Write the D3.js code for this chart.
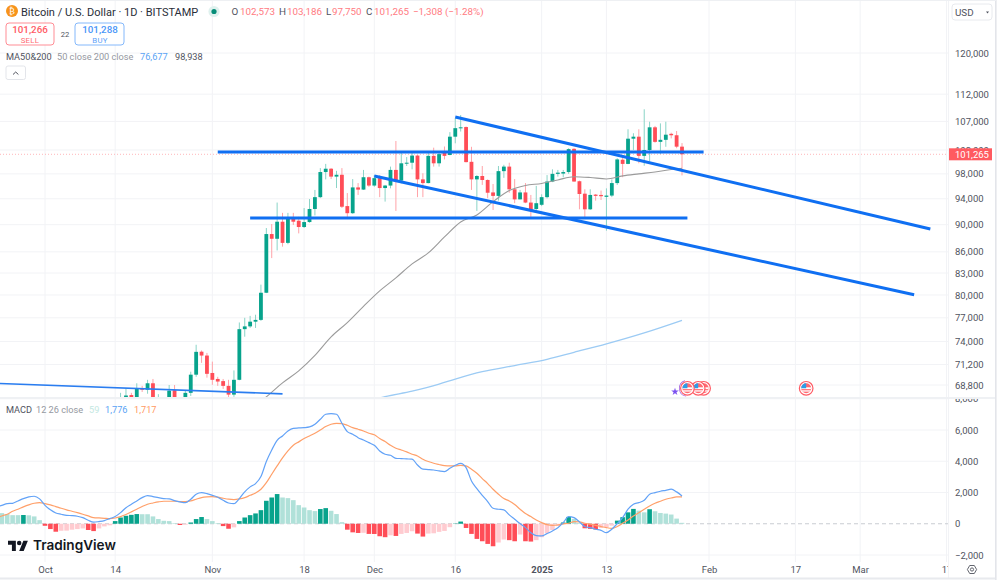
<!DOCTYPE html>
<html>
<head>
<meta charset="utf-8">
<script src="https://cdn.jsdelivr.net/npm/d3@7"></script>
<style>
html, body { margin: 0; padding: 0; background: #ffffff; }
svg { display: block; font-family: Roboto, sans-serif; }
</style>
</head>
<body>
<div id="chart"></div>
<script>
// candles, one per day from this date
var candleStart = "2024-10-15";
var candleOpen = [
  65900,67050,67650,67050,68450,68250,69000,67000,67300,66700,68200,66600,67000,67900,70000,72750,72280,
  70200,69500,69250,68700,67700,69400,75550,75900,76500,76730,80300,88600,87900,90450,87300,91000,90600,89650,90400,92400,94250,98300,98850,97550,97850,92850,91750,95800,95450,97450,
  96100,97300,95700,96100,98650,96900,99750,99850,101050,97100,96500,101000,99750,101700,101150,104300,105800,106000,100000,97100,97650,97000,95000,94450,98450,99200,95500,93900,95000,93400,92400,
  93050,94250,96750,98000,98050,98300,102200,96800,94800,92350,94650,94600,94300,94500,96500,100350,99650,103950,104300,101000,102000,105950,103400,103750,104800,104550,102573
];
var candleHigh = [
  67900,68400,67900,69000,68700,69400,69500,67750,67300,68800,68800,67300,68200,70350,73600,72900,72600,
  71550,69750,69500,69400,70500,76400,77000,77250,77400,81400,89500,90100,93400,91800,91800,91800,91200,92550,93950,95400,98950,99650,98950,98500,98950,94900,97150,96500,98650,97550,
  97800,97800,96200,99200,103550,101700,100800,101700,101150,98100,101700,102400,101700,102600,105100,107600,108150,106100,102550,97800,99300,97100,96350,99300,99500,99850,97150,95400,96500,94600,96050,
  94700,97800,98750,98650,98650,102300,102300,96900,95500,95500,94750,95300,95650,97100,100600,100850,105600,104900,105600,109200,106950,106200,106650,106950,105000,105300,103186
];
var candleLow = [
  64800,66800,66700,66900,68000,67800,66600,66500,65300,66600,65500,66500,66800,67550,69750,71400,69650,
  68820,68700,68350,67300,67450,69350,74600,75700,75700,76600,80250,85100,86200,86750,87100,89950,88700,89500,90300,91400,94100,97100,97150,95700,92550,90850,91650,94600,95400,95900,
  95900,94250,93550,95650,92100,96450,99300,98750,94250,94250,96450,99200,99200,100400,101100,103150,105200,99900,95400,92100,96200,94100,92250,93700,97350,94950,93300,93900,93300,91200,92250,
  92850,94050,96650,97550,97450,98000,96700,92350,91150,92250,93700,93800,89100,94250,96200,97450,99600,102000,99750,99350,100050,103250,101300,102550,104000,102300,97750
];
var candleClose = [
  66950,67600,67050,68400,68250,69000,67350,67300,66700,68150,66600,67000,67900,70000,72730,72280,70100,
  69400,69200,68700,67700,69400,75550,75900,76500,76730,80300,88600,87900,90450,87300,91000,90450,89650,90400,92400,94250,98300,98850,97550,97850,92750,91750,95800,95450,97450,96100,
  97300,95700,96100,98650,96900,99750,99850,101050,97100,96500,101000,99750,101300,101000,104300,105800,105950,99950,97100,97650,97000,94950,94450,98450,99200,95500,93900,95000,93400,92250,93300,
  94250,96750,98000,98200,98300,102150,96750,94750,92350,94600,94450,94400,94500,96500,100400,99650,103950,104300,101000,102000,105950,103400,103750,104650,104550,102570,101265
];

// moving averages, read every few days
var ma50Dates = ["2024-11-08","2024-11-11","2024-11-14","2024-11-17","2024-11-20","2024-11-23","2024-11-26","2024-11-29","2024-12-02","2024-12-05","2024-12-08","2024-12-11","2024-12-14","2024-12-17","2024-12-20","2024-12-23","2024-12-26","2024-12-29","2025-01-01","2025-01-04","2025-01-07","2025-01-10","2025-01-13","2025-01-16","2025-01-19","2025-01-22","2025-01-25","2025-01-27"];
var ma50Values = [66100,67450,69050,70450,72300,74580,76380,78490,80550,82330,84280,85850,88170,90410,91480,93540,95310,96120,96440,97010,97540,97410,97170,97670,98000,98310,98720,98938];
var ma200Dates = ["2024-11-30","2024-12-03","2024-12-08","2024-12-13","2024-12-16","2024-12-21","2024-12-27","2025-01-02","2025-01-07","2025-01-13","2025-01-20","2025-01-27"];
var ma200Values = [67000,67470,68100,68900,69490,70360,71080,71820,72670,73710,75080,76677];

// hand drawn lines on the chart: [date, price, date, price]
var trendLines = [
  ["2024-11-02",101660,"2025-01-31",101660],
  ["2024-11-08",91020,"2025-01-28",91020],
  ["2024-12-16",107800,"2025-03-14",89360],
  ["2024-12-01",97660,"2025-03-11",80020]
];
var thinLine = ["2024-09-22",68980,"2024-11-14",67790];

var eventDates = ["2025-02-19","2025-01-31","2025-01-30","2025-01-28"];

// macd pane, one value per day from this date
var macdStart = "2024-09-22";
var macdLine = [
  1100,1180,1290,1310,1460,1610,1720,1760,1590,
  1180,890,690,610,540,520,480,390,220,100,140,200,330,460,710,1030,1250,1460,1670,1800,1740,1670,1610,1590,1480,1400,1350,1570,1890,1990,
  1930,1820,1700,1500,1330,1290,1610,2040,2360,2570,3020,3980,4720,5340,5620,5940,6110,6130,6150,6200,6370,6690,7010,7050,7010,6430,5900,5730,5510,5360,
  5190,5020,4660,4450,4380,4190,4170,4150,4130,3760,3490,3470,3440,3380,3340,3550,3740,3870,3590,2740,2250,1820,1420,990,930,890,570,290,10,-250,-570,-760,
  -780,-630,-460,-250,70,460,390,120,-180,-250,-350,-420,-570,-350,10,390,930,1250,1350,1500,1890,1990,2080,2140,2210,2040,1776
];
var signalLine = [
  350,500,610,800,930,1080,1210,1310,1350,
  1290,1210,1100,990,890,800,710,610,500,390,370,350,330,370,460,590,760,930,1100,1250,1330,1400,1440,1440,1440,1420,1420,1460,1570,1670,
  1720,1740,1700,1630,1570,1550,1590,1670,1820,1970,2210,2630,3170,3700,4210,4660,5020,5240,5450,5620,5790,6000,6220,6370,6430,6410,6300,6150,6050,5940,
  5790,5700,5450,5260,5020,4830,4720,4600,4450,4340,4130,3980,3870,3790,3720,3700,3700,3740,3700,3490,3230,2890,2570,2210,1890,1610,1460,1230,930,650,460,240,
  70,-60,-100,-80,-10,30,140,120,30,-30,-100,-180,-250,-290,-180,30,240,500,710,930,1140,1310,1440,1570,1650,1720,1717
];
var macdHist = [
  700,680,620,550,550,560,540,470,230,
  -130,-340,-510,-450,-440,-380,-340,-300,-400,-470,-300,-170,-100,170,400,510,570,620,610,610,470,300,190,170,40,-80,-60,80,300,430,300,
  170,40,-150,-320,-230,170,400,550,660,870,1470,1680,1900,1680,1640,1510,1190,1040,870,810,940,1000,830,620,100,-380,-550,-590,-580,-650,
  -655,-800,-860,-740,-780,-650,-590,-480,-630,-820,-630,-610,-520,-460,-220,20,140,-270,-650,-970,-1120,-1290,-1440,-1200,-1010,-1050,-1120,-690,-1120,-1140,-1050,
  -860,-600,-400,-150,80,440,310,50,-290,-330,-370,-270,-220,-120,200,420,730,950,840,730,930,800,690,650,590,330,59
];

// axis labels
var priceTicks = [120000,112000,107000,102000,98000,94000,90000,86000,83000,80000,77000,74000,71200,68800];
var macdTicks = [8000,6000,4000,2000,0,-2000];
var timeTicks = ["2024-10-01","2024-10-14","2024-11-01","2024-11-18","2024-12-01","2024-12-16","2025-01-01","2025-01-13","2025-02-01","2025-02-17","2025-03-01","2025-03-17"];
var timeLabels = ["Oct","14","Nov","18","Dec","16","2025","13","Feb","17","Mar","17"];

var lastPrice = 101265;
var greenBody = "#07a38c", redBody = "#ff4d57", greenWick = "#8ad4c7", redWick = "#ffa3a8";
var greyText = "#50535e", paleRed = "#ff7b82";
var parseDay = d3.utcParse("%Y-%m-%d");

var svg = d3.select("#chart").append("svg").attr("width", 1000).attr("height", 586);
var defs = svg.append("defs");
defs.append("clipPath").attr("id", "priceClip").append("rect").attr("x", 0).attr("y", 0).attr("width", 948).attr("height", 397);
defs.append("clipPath").attr("id", "macdClip").append("rect").attr("x", 0).attr("y", 399).attr("width", 948).attr("height", 163);
defs.append("clipPath").attr("id", "timeClip").append("rect").attr("x", 0).attr("y", 562).attr("width", 948).attr("height", 16);
defs.append("clipPath").attr("id", "macdAxisClip").append("rect").attr("x", 948).attr("y", 399).attr("width", 48).attr("height", 163);

// scales, x is fixed by the month ticks, price is a log scale
var x = d3.scaleUtc().domain([parseDay("2024-10-01"), parseDay("2025-02-01")]).range([45, 709]);
var yPrice = d3.scaleLog().domain([120000, 68800]).range([53, 385]);
var yMacd = d3.scaleLinear().domain([6000, -2000]).range([430, 555]);

// grid
var gridColor = "#f2f3f6";
var timeDates = timeTicks.map(parseDay);
svg.append("g").attr("clip-path", "url(#priceClip)").selectAll("line").data(timeDates).enter().append("line")
  .attr("x1", function(d){return x(d)}).attr("x2", function(d){return x(d)})
  .attr("y1", 0).attr("y2", 397).style("stroke", gridColor);
svg.append("g").attr("clip-path", "url(#macdClip)").selectAll("line").data(timeDates).enter().append("line")
  .attr("x1", function(d){return x(d)}).attr("x2", function(d){return x(d)})
  .attr("y1", 399).attr("y2", 562).style("stroke", gridColor);
svg.append("g").attr("clip-path", "url(#priceClip)").selectAll("line").data(priceTicks).enter().append("line")
  .attr("x1", 0).attr("x2", 948)
  .attr("y1", function(d){return yPrice(d)}).attr("y2", function(d){return yPrice(d)})
  .style("stroke", gridColor);
svg.append("g").attr("clip-path", "url(#macdClip)").selectAll("line").data(macdTicks.filter(function(d){return d!==0})).enter().append("line")
  .attr("x1", 0).attr("x2", 948)
  .attr("y1", function(d){return yMacd(d)}).attr("y2", function(d){return yMacd(d)})
  .style("stroke", gridColor);

// last price line
svg.append("line").attr("x1", 0).attr("x2", 948)
  .attr("y1", yPrice(lastPrice)).attr("y2", yPrice(lastPrice))
  .style("stroke", "#ffa3a8").style("stroke-width", 0.8).style("stroke-dasharray", "1 2");

// price pane
var pricePane = svg.append("g").attr("clip-path", "url(#priceClip)");

var candles = candleOpen.map(function(o, i){
  return {date: d3.utcDay.offset(parseDay(candleStart), i), o: o, h: candleHigh[i], l: candleLow[i], c: candleClose[i]};
});

pricePane.selectAll("line.wick").data(candles).enter().append("line")
  .attr("class", "wick")
  .attr("x1", function(d){return x(d.date)}).attr("x2", function(d){return x(d.date)})
  .attr("y1", function(d){return yPrice(d.h)}).attr("y2", function(d){return yPrice(d.l)})
  .style("stroke", function(d){return d.c >= d.o ? greenWick : redWick})
  .style("stroke-width", 1);
pricePane.selectAll("rect.body").data(candles).enter().append("rect")
  .attr("class", "body")
  .attr("x", function(d){return x(d.date) - 1.9})
  .attr("width", 3.8)
  .attr("y", function(d){return yPrice(Math.max(d.o, d.c))})
  .attr("height", function(d){return Math.max(1, Math.abs(yPrice(d.o) - yPrice(d.c)))})
  .style("fill", function(d){return d.c >= d.o ? greenBody : redBody});

var priceLine = d3.line()
  .x(function(d){return x(parseDay(d[0]))})
  .y(function(d){return yPrice(d[1])})
  .curve(d3.curveMonotoneX);
pricePane.append("path").datum(d3.zip(ma200Dates, ma200Values)).attr("d", priceLine)
  .style("fill", "none").style("stroke", "#9ccbf4").style("stroke-width", 1.3);
pricePane.append("path").datum(d3.zip(ma50Dates, ma50Values)).attr("d", priceLine)
  .style("fill", "none").style("stroke", "#9b9b9b").style("stroke-width", 1.1);

// trend lines
pricePane.selectAll("line.trend").data(trendLines).enter().append("line")
  .attr("class", "trend")
  .attr("x1", function(d){return x(parseDay(d[0]))}).attr("y1", function(d){return yPrice(d[1])})
  .attr("x2", function(d){return x(parseDay(d[2]))}).attr("y2", function(d){return yPrice(d[3])})
  .style("stroke", "#0f6ff2").style("stroke-width", 3);
pricePane.append("line")
  .attr("x1", x(parseDay(thinLine[0]))).attr("y1", yPrice(thinLine[1]))
  .attr("x2", x(parseDay(thinLine[2]))).attr("y2", yPrice(thinLine[3]))
  .style("stroke", "#2a7df0").style("stroke-width", 1.6);

// event flags along the bottom of the price pane
var eventY = 388.3;
svg.append("path")
  .attr("d", d3.arc()({innerRadius: 7.6, outerRadius: 8.4, startAngle: Math.PI * 1.05, endAngle: Math.PI * 1.9}))
  .attr("transform", "translate(" + x(parseDay("2025-01-28")) + "," + eventY + ")")
  .style("fill", "#a768e0");
svg.append("path").attr("d", d3.symbol(d3.symbolStar, 18)())
  .attr("transform", "translate(675,391.7)").style("fill", "#7b50f0");
var flags = svg.selectAll("g.flag").data(eventDates).enter().append("g")
  .attr("class", "flag")
  .attr("transform", function(d){return "translate(" + x(parseDay(d)) + "," + eventY + ")"});
flags.append("circle").attr("r", 6.8).style("fill", "#ffffff").style("stroke", "#ff5a64").style("stroke-width", 1.2);
flags.append("circle").attr("r", 5).style("fill", "#ff6a72");
flags.append("rect").attr("x", -5).attr("y", -1).attr("width", 10).attr("height", 1.8).style("fill", "#ffffff");
flags.append("rect").attr("x", -4.6).attr("y", 2).attr("width", 9.2).attr("height", 1.3).style("fill", "#ffffff");
flags.append("path").attr("d", "M0,-5A5,5 0 0 0 -5,0L0,0Z").style("fill", "#2b9de8");

// macd pane
var macdPane = svg.append("g").attr("clip-path", "url(#macdClip)");
var macdDays = macdHist.map(function(v, i){return d3.utcDay.offset(parseDay(macdStart), i)});

macdPane.append("line").attr("x1", 0).attr("x2", 948).attr("y1", yMacd(0)).attr("y2", yMacd(0))
  .style("stroke", "#c9ccd2").style("stroke-dasharray", "4 3");
macdPane.selectAll("rect").data(macdHist).enter().append("rect")
  .attr("x", function(d, i){return x(macdDays[i]) - 2.3})
  .attr("width", 4.6)
  .attr("y", function(d){return d >= 0 ? yMacd(d) : yMacd(0)})
  .attr("height", function(d){return Math.abs(yMacd(d) - yMacd(0))})
  .style("fill", function(d, i){
    var prev = i > 0 ? macdHist[i-1] : d;
    if(d >= 0){return d > prev ? "#07a38c" : "#b0e1d9";}
    return d < prev ? "#ff4d57" : "#ffcbd0";
  });
var macdPath = d3.line()
  .x(function(d, i){return x(macdDays[i])})
  .y(function(d){return yMacd(d)})
  .curve(d3.curveMonotoneX);
macdPane.append("path").datum(signalLine).attr("d", macdPath)
  .style("fill", "none").style("stroke", "#ffa06a").style("stroke-width", 1.2);
macdPane.append("path").datum(macdLine).attr("d", macdPath)
  .style("fill", "none").style("stroke", "#62a2f7").style("stroke-width", 1.2);

// axes
var priceAxis = svg.append("g").attr("transform", "translate(948,0)")
  .call(d3.axisRight(yPrice).tickValues(priceTicks).tickSize(0).tickPadding(7).tickFormat(d3.format(",")));
// wrap so the clip stays in page pixels, the top tick is cut by the pane edge
var macdAxis = svg.append("g").attr("clip-path", "url(#macdAxisClip)").append("g").attr("transform", "translate(948,0)")
  .call(d3.axisRight(yMacd).tickValues(macdTicks).tickSize(0).tickPadding(7)
    .tickFormat(function(d){return d3.format(",")(d).replace("-", "\u2212")}));
var timeAxis = svg.append("g").attr("clip-path", "url(#timeClip)").append("g").attr("transform", "translate(0,562)")
  .call(d3.axisBottom(x).tickValues(timeDates).tickSize(0).tickPadding(2)
    .tickFormat(function(d, i){return timeLabels[i]}));
[priceAxis, macdAxis, timeAxis].forEach(function(a){
  a.select(".domain").remove();
  a.selectAll("text").style("font-family", "Roboto, sans-serif").style("font-size", "9.5px").style("fill", "#50535e");
});
timeAxis.selectAll("text").filter(function(d, i){return timeLabels[i]==="2025"}).style("font-weight", "700");
timeAxis.selectAll("text").attr("y", 4).attr("dy", "0.71em");

// current price tag over the axis
svg.append("rect").attr("x", 949).attr("y", yPrice(lastPrice) - 6).attr("width", 43).attr("height", 12).style("fill", "#ff5a60");
svg.append("text").attr("x", 955).attr("y", yPrice(lastPrice) + 3.4).text("101,265")
  .style("font-size", "9.5px").style("fill", "#ffffff");

// pane borders
svg.append("rect").attr("x", 0).attr("y", 397).attr("width", 996).attr("height", 2).style("fill", "#eff1f4");
svg.append("rect").attr("x", 948).attr("y", 0).attr("width", 0.8).attr("height", 578).style("fill", "#eff1f4");
svg.append("rect").attr("x", 0).attr("y", 577.5).attr("width", 996).attr("height", 2).style("fill", "#e8eaee");
svg.append("rect").attr("x", 995).attr("y", 0).attr("width", 1.6).attr("height", 580).style("fill", "#e3e5ea");
svg.append("rect").attr("x", 0).attr("y", 0).attr("width", 996).attr("height", 1).style("fill", "#eef0f3");

// header
svg.append("circle").attr("cx", 12).attr("cy", 11).attr("r", 6).style("fill", "#f7931a");
svg.append("text").attr("x", 12).attr("y", 14).attr("text-anchor", "middle").text("\u20bf")
  .style("font-size", "8.5px").style("font-family", "DejaVu Sans").style("fill", "#ffffff");
svg.append("text").attr("x", 21).attr("y", 15.5).text("Bitcoin / U.S. Dollar \u00b7 1D \u00b7 BITSTAMP")
  .style("font-size", "11px").style("fill", "#2a2e39");
svg.append("circle").attr("cx", 214).attr("cy", 11.5).attr("r", 5.6).style("fill", "#dff1ee");
svg.append("circle").attr("cx", 214).attr("cy", 11.5).attr("r", 2.6).style("fill", "#078d78");

var ohlcKeys = ["O","H","L","C"], ohlcValues = ["102,573","103,186","97,750","101,265"];
var ohlcKeyX = [231.5,279,326,366], ohlcValueX = [240,287,332,374];
ohlcKeys.forEach(function(k, i){
  svg.append("text").attr("x", ohlcKeyX[i]).attr("y", 15).text(k).style("font-size", "9.8px").style("fill", greyText);
  svg.append("text").attr("x", ohlcValueX[i]).attr("y", 15).text(ohlcValues[i]).style("font-size", "9.8px").style("fill", paleRed);
});
svg.append("text").attr("x", 413).attr("y", 15).text("\u22121,308 (\u22121.28%)").style("font-size", "9.8px").style("fill", paleRed);

// sell and buy boxes
svg.append("rect").attr("x", 6).attr("y", 23).attr("width", 48).attr("height", 22).attr("rx", 3)
  .style("fill", "#fff").style("stroke", "#ff8d95");
svg.append("text").attr("x", 30).attr("y", 33).attr("text-anchor", "middle").text("101,266")
  .style("font-size", "9.8px").style("font-weight", 500).style("fill", "#ff5a64");
svg.append("text").attr("x", 30).attr("y", 42.5).attr("text-anchor", "middle").text("SELL")
  .style("font-size", "7.8px").style("letter-spacing", "0.3px").style("fill", "#ff6a72");
svg.append("text").attr("x", 65).attr("y", 37).attr("text-anchor", "middle").text("22")
  .style("font-size", "7.6px").style("fill", greyText);
svg.append("rect").attr("x", 75).attr("y", 23).attr("width", 49).attr("height", 22).attr("rx", 3)
  .style("fill", "#fff").style("stroke", "#84b8fb");
svg.append("text").attr("x", 100).attr("y", 33).attr("text-anchor", "middle").text("101,288")
  .style("font-size", "9.8px").style("font-weight", 500).style("fill", "#4a96f8");
svg.append("text").attr("x", 100).attr("y", 42.5).attr("text-anchor", "middle").text("BUY")
  .style("font-size", "7.8px").style("letter-spacing", "0.3px").style("fill", "#5ea2f8");

// indicator legends: text, colour, left edge
function legend(y, parts){
  parts.forEach(function(p){
    svg.append("text").attr("x", p[2]).attr("y", y).text(p[0]).style("font-size", "9.2px").style("fill", p[1]);
  });
}
legend(60, [["MA50&200", greyText, 6], ["50 close 200 close", "#9598a1", 57], ["76,677", "#5aa3f5", 140], ["98,938", greyText, 175]]);
legend(413, [["MACD", greyText, 6], ["12 26 close", "#9598a1", 36], ["59", "#c3e8e2", 89], ["1,776", "#5aa3f5", 105], ["1,717", "#ff9a62", 134]]);

// collapse button
svg.append("rect").attr("x", 6).attr("y", 66).attr("width", 19.5).attr("height", 13.5).attr("rx", 2)
  .style("fill", "#fff").style("stroke", "#e3e5ea");
svg.append("path").attr("d", "M13,74.5L15.7,72L18.4,74.5").style("fill", "none").style("stroke", "#50535e").style("stroke-width", 1);

// currency button
svg.append("rect").attr("x", 952).attr("y", 4).attr("width", 40).attr("height", 16).attr("rx", 3)
  .style("fill", "#fff").style("stroke", "#e8eaee");
svg.append("text").attr("x", 955).attr("y", 15.5).text("USD").style("font-size", "9.8px").style("fill", greyText);
svg.append("path").attr("d", "M986,11.5L989,11.5L987.5,13.5Z").style("fill", greyText);

// settings icon
svg.append("path").attr("transform", "translate(972,569.5)")
  .attr("d", "M-4.6,0L-2.3,-4L2.3,-4L4.6,0L2.3,4L-2.3,4Z")
  .style("fill", "none").style("stroke", "#50535e").style("stroke-width", 0.9);
svg.append("circle").attr("cx", 972).attr("cy", 569.5).attr("r", 1.6).style("fill", "none").style("stroke", "#50535e").style("stroke-width", 0.9);

// logo
var logo = svg.append("g").attr("transform", "translate(8,538.6) scale(0.56)");
logo.append("path").attr("d", "M14 22H7V11H0V4h14v18zM28 22h-8l7.5-18h8L28 22z").style("fill", "#131722");
logo.append("circle").attr("cx", 20).attr("cy", 8).attr("r", 4).style("fill", "#131722");
svg.append("text").attr("x", 33).attr("y", 550).text("TradingView")
  .style("font-family", "Inter, sans-serif").style("font-size", "13.6px").style("font-weight", 600).style("fill", "#131722");
</script>
</body>
</html>
